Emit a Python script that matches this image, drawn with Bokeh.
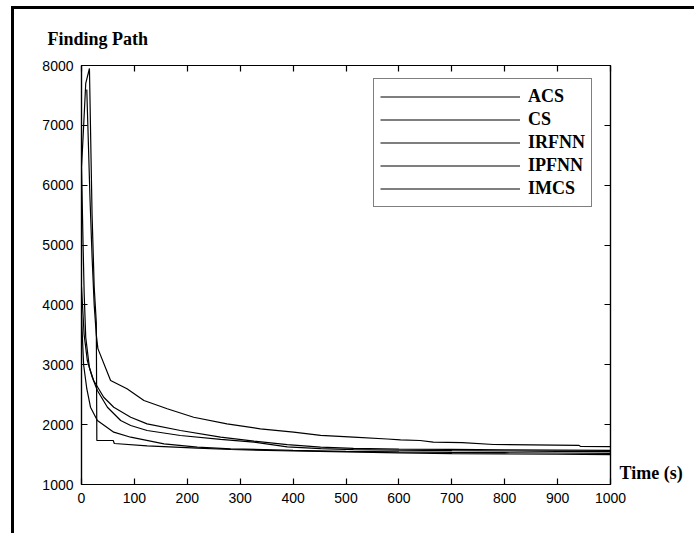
from bokeh.plotting import figure
from bokeh.models import (LinearAxis, FixedTicker, Legend, LegendItem, Range1d)
from bokeh.embed import file_html
from bokeh.resources import INLINE

# ---- data ----
x_ticks = [0, 100, 200, 300, 400, 500, 600, 700, 800, 900, 1000]
y_ticks = [1000, 2000, 3000, 4000, 5000, 6000, 7000, 8000]
x_name = "Time (s)"
x_name_level = 1200      # height (y value) at which the x-axis name sits, right of the frame

acs_x = [10, 12, 16, 20, 24, 28, 31, 55, 86, 118, 162, 212, 275, 338, 401, 452, 514, 578, 603, 640, 665, 720, 779, 940, 943, 1000]
acs_y = [7600, 7000, 5800, 4800, 4000, 3500, 3270, 2737, 2599, 2403, 2265, 2124, 2014, 1930, 1874, 1820, 1790, 1760, 1747, 1735, 1707, 1700, 1668, 1655, 1638, 1632]

cs_x = [0, 3, 5, 8, 15, 23, 42, 61, 93, 124, 187, 263, 326, 389, 452, 514, 600, 700, 800, 900, 1000]
cs_y = [6300, 5000, 4200, 3460, 2950, 2737, 2458, 2291, 2124, 2013, 1902, 1790, 1725, 1665, 1625, 1605, 1592, 1586, 1580, 1575, 1570]

irfnn_x = [0, 5, 11, 20, 30, 49, 74, 93, 124, 187, 263, 326, 389, 452, 514, 600, 700, 800, 900, 1000]
irfnn_y = [4300, 3500, 3071, 2800, 2570, 2291, 2069, 1986, 1902, 1819, 1755, 1707, 1630, 1598, 1582, 1572, 1565, 1560, 1555, 1550]

ipfnn_x = [0, 4, 10, 17, 30, 61, 93, 156, 219, 282, 400, 500, 600, 700, 800, 900, 1000]
ipfnn_y = [3800, 3000, 2600, 2291, 2069, 1874, 1790, 1680, 1624, 1596, 1570, 1555, 1545, 1537, 1531, 1526, 1520]

imcs_x = [0, 3, 8, 15, 20, 24, 28, 29, 60, 62, 124, 219, 282, 400, 500, 600, 700, 800, 900, 1000]
imcs_y = [6300, 6800, 7700, 7950, 5500, 4300, 3700, 1735, 1735, 1685, 1645, 1607, 1585, 1560, 1545, 1530, 1515, 1510, 1505, 1500]

series = [("ACS", acs_x, acs_y), ("CS", cs_x, cs_y), ("IRFNN", irfnn_x, irfnn_y),
          ("IPFNN", ipfnn_x, ipfnn_y), ("IMCS", imcs_x, imcs_y)]

# outer frame: the figure sits inside a black border (top/left visible)
OFF_X, OFF_Y, BW = 11, 6, 3
W = 697 - OFF_X - BW
H = 536 - OFF_Y - BW
FL, FT, FW, FH = 81, 65, 529, 419   # frame in page pixels
mb_left = FL - OFF_X - BW
mb_top = FT - OFF_Y - BW
mb_right = W - mb_left - FW
mb_bottom = H - mb_top - FH

p = figure(width=W, height=H, output_backend="svg", toolbar_location=None,
           x_range=Range1d(0, 1000), y_range=Range1d(1000, 8000),
           min_border_left=mb_left, min_border_right=mb_right,
           min_border_top=mb_top, min_border_bottom=mb_bottom,
           x_axis_location=None, y_axis_location=None)
p.margin = (OFF_Y, 0, 0, OFF_X)
p.styles = {"border-top": f"{BW}px solid black", "border-left": f"{BW}px solid black"}
p.grid.visible = False
p.outline_line_color = "black"
p.outline_line_width = 1.2
p.background_fill_color = "white"
p.border_fill_color = "white"

SERIF = "Liberation Serif"
TICK_FONT = "Liberation Sans"

# title "Finding Path" at top-left, outside the frame
p.title.text = "Finding Path"
p.title.align = "left"
p.title.offset = 47 - FL
p.title.text_font = SERIF
p.title.text_font_style = "bold"
p.title.text_font_size = "18px"
p.title.text_color = "black"
p.title.standoff = 34

def mk_axis(ticks, labels=True):
    ax = LinearAxis(ticker=FixedTicker(ticks=ticks))
    ax.major_tick_in = 6
    ax.major_tick_out = 0
    ax.minor_tick_line_color = None
    ax.axis_line_color = "black"
    ax.axis_line_width = 1.2
    ax.major_tick_line_color = "black"
    ax.major_tick_line_width = 1.2
    ax.major_label_text_font = TICK_FONT
    if labels:
        ax.major_label_text_font_size = "14px"
        ax.major_label_text_color = "black"
        ax.major_label_standoff = 8
    else:
        ax.major_label_text_font_size = "0px"
        ax.major_label_text_color = None
        ax.major_label_standoff = 0
    return ax

p.add_layout(mk_axis(x_ticks), "below")
p.add_layout(mk_axis(y_ticks), "left")
p.add_layout(mk_axis(x_ticks, False), "above")
p.add_layout(mk_axis(y_ticks, False), "right")

# x-axis name, drawn as the single label of an extra (invisible) right axis
name_ax = LinearAxis(ticker=FixedTicker(ticks=[x_name_level]),
                     major_label_overrides={x_name_level: x_name})
name_ax.axis_line_color = None
name_ax.major_tick_line_color = None
name_ax.minor_tick_line_color = None
name_ax.major_tick_in = 0
name_ax.major_tick_out = 0
name_ax.major_label_standoff = 9
name_ax.major_label_text_font = SERIF
name_ax.major_label_text_font_style = "bold"
name_ax.major_label_text_font_size = "18px"
name_ax.major_label_text_color = "black"
p.add_layout(name_ax, "right")

items = []
for name, xs, ys in series:
    r = p.line(xs, ys, line_color="black", line_width=1.2)
    items.append(LegendItem(label=name, renderers=[r]))

leg = Legend(items=items, location=(373 - FL, FT + FH - 207))
leg.label_text_font = SERIF
leg.label_text_font_style = "bold"
leg.label_text_font_size = "18px"
leg.label_text_color = "black"
leg.glyph_width = 140
leg.glyph_height = 23
leg.label_height = 23
leg.spacing = 0
leg.padding = 6
leg.margin = 0
leg.label_standoff = 8
leg.border_line_color = "black"
leg.border_line_width = 1.2
leg.background_fill_alpha = 1
p.add_layout(leg, "center")

open("out.html", "w").write(file_html(p, INLINE))
